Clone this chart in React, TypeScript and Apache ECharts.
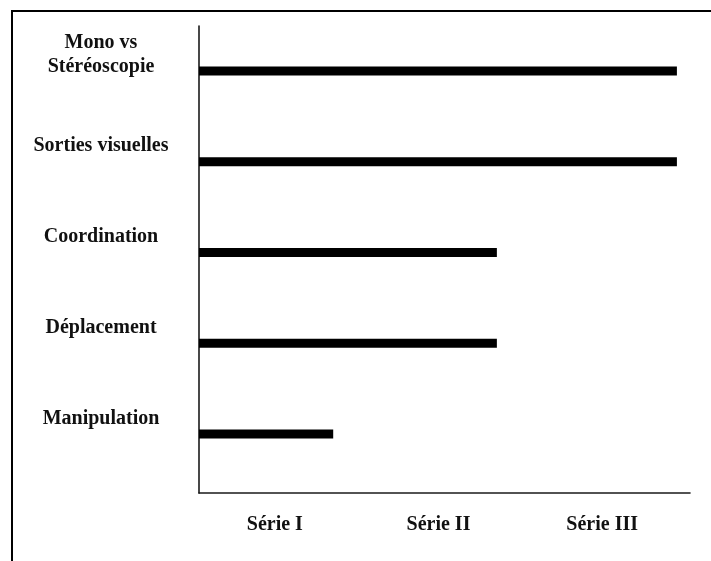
import React, { useEffect, useRef } from "react";
import * as echarts from "echarts";

const categories = [
  "Mono vs\nStéréoscopie",
  "Sorties visuelles",
  "Coordination",
  "Déplacement",
  "Manipulation",
];
const values = [2.92, 2.92, 1.82, 1.82, 0.82];
const seriesLabels = ["Série I", "Série II", "Série III"];
const valueMax = 3;

const FONT = "'Liberation Serif', 'Times New Roman', serif";

export default function App() {
  const ref = useRef<HTMLDivElement>(null);
  useEffect(() => {
    if (!ref.current) return;
    const chart = echarts.init(ref.current, undefined, { renderer: "svg" });
    const textStyle = {
      fontSize: 20,
      fontWeight: "bold",
      fontFamily: FONT,
      color: "#111",
      lineHeight: 24,
    };
    chart.setOption({
      animation: false,
      grid: [
        { left: 199, right: 21, top: 26, bottom: 68 },
        { left: 199, right: 21, top: 25.6, bottom: 81.6 },
      ],
      xAxis: [
        {
          type: "category",
          gridIndex: 0,
          data: seriesLabels,
          axisLine: { show: true, lineStyle: { color: "#1a1a1a", width: 1.6 } },
          axisTick: { show: false },
          splitLine: { show: false },
          axisLabel: {
            margin: 20,
            fontSize: 20,
            fontWeight: "bold",
            fontFamily: FONT,
            color: "#111",
            padding: [0, 12, 0, 0],
          },
        },
        {
          type: "value",
          gridIndex: 1,
          min: 0,
          max: valueMax,
          show: false,
        },
      ],
      yAxis: [
        {
          type: "value",
          gridIndex: 0,
          min: 0,
          max: 1,
          axisLine: { show: true, lineStyle: { color: "#1a1a1a", width: 1.6 } },
          axisTick: { show: false },
          axisLabel: { show: false },
          splitLine: { show: false },
        },
        {
          type: "category",
          gridIndex: 1,
          inverse: true,
          data: categories,
          axisLine: { show: false },
          axisTick: { show: false },
          splitLine: { show: false },
          axisLabel: {
            align: "center",
            verticalAlign: "middle",
            margin: 98,
            formatter: (v: string) =>
              v
                .split("\n")
                .map((l) => `{a|${l}}`)
                .join("\n") + "\n{g| }",
            rich: {
              a: { ...textStyle, align: "center" },
              g: { fontSize: 10, lineHeight: 35 },
            },
          },
        },
      ],
      series: [
        {
          type: "bar",
          xAxisIndex: 1,
          yAxisIndex: 1,
          data: values,
          barWidth: 9,
          itemStyle: { color: "#000" },
        },
      ],
    });
    return () => chart.dispose();
  }, []);
  return (
    <>
      <div
        style={{
          position: "fixed",
          left: 10.5,
          top: 10,
          width: 760,
          height: 620,
          borderTop: "2px solid #000",
          borderLeft: "2px solid #000",
          boxSizing: "border-box",
        }}
      />
      <div
        ref={ref}
        style={{ position: "fixed", left: 0, top: 0, width: 711, height: 561 }}
      />
    </>
  );
}
